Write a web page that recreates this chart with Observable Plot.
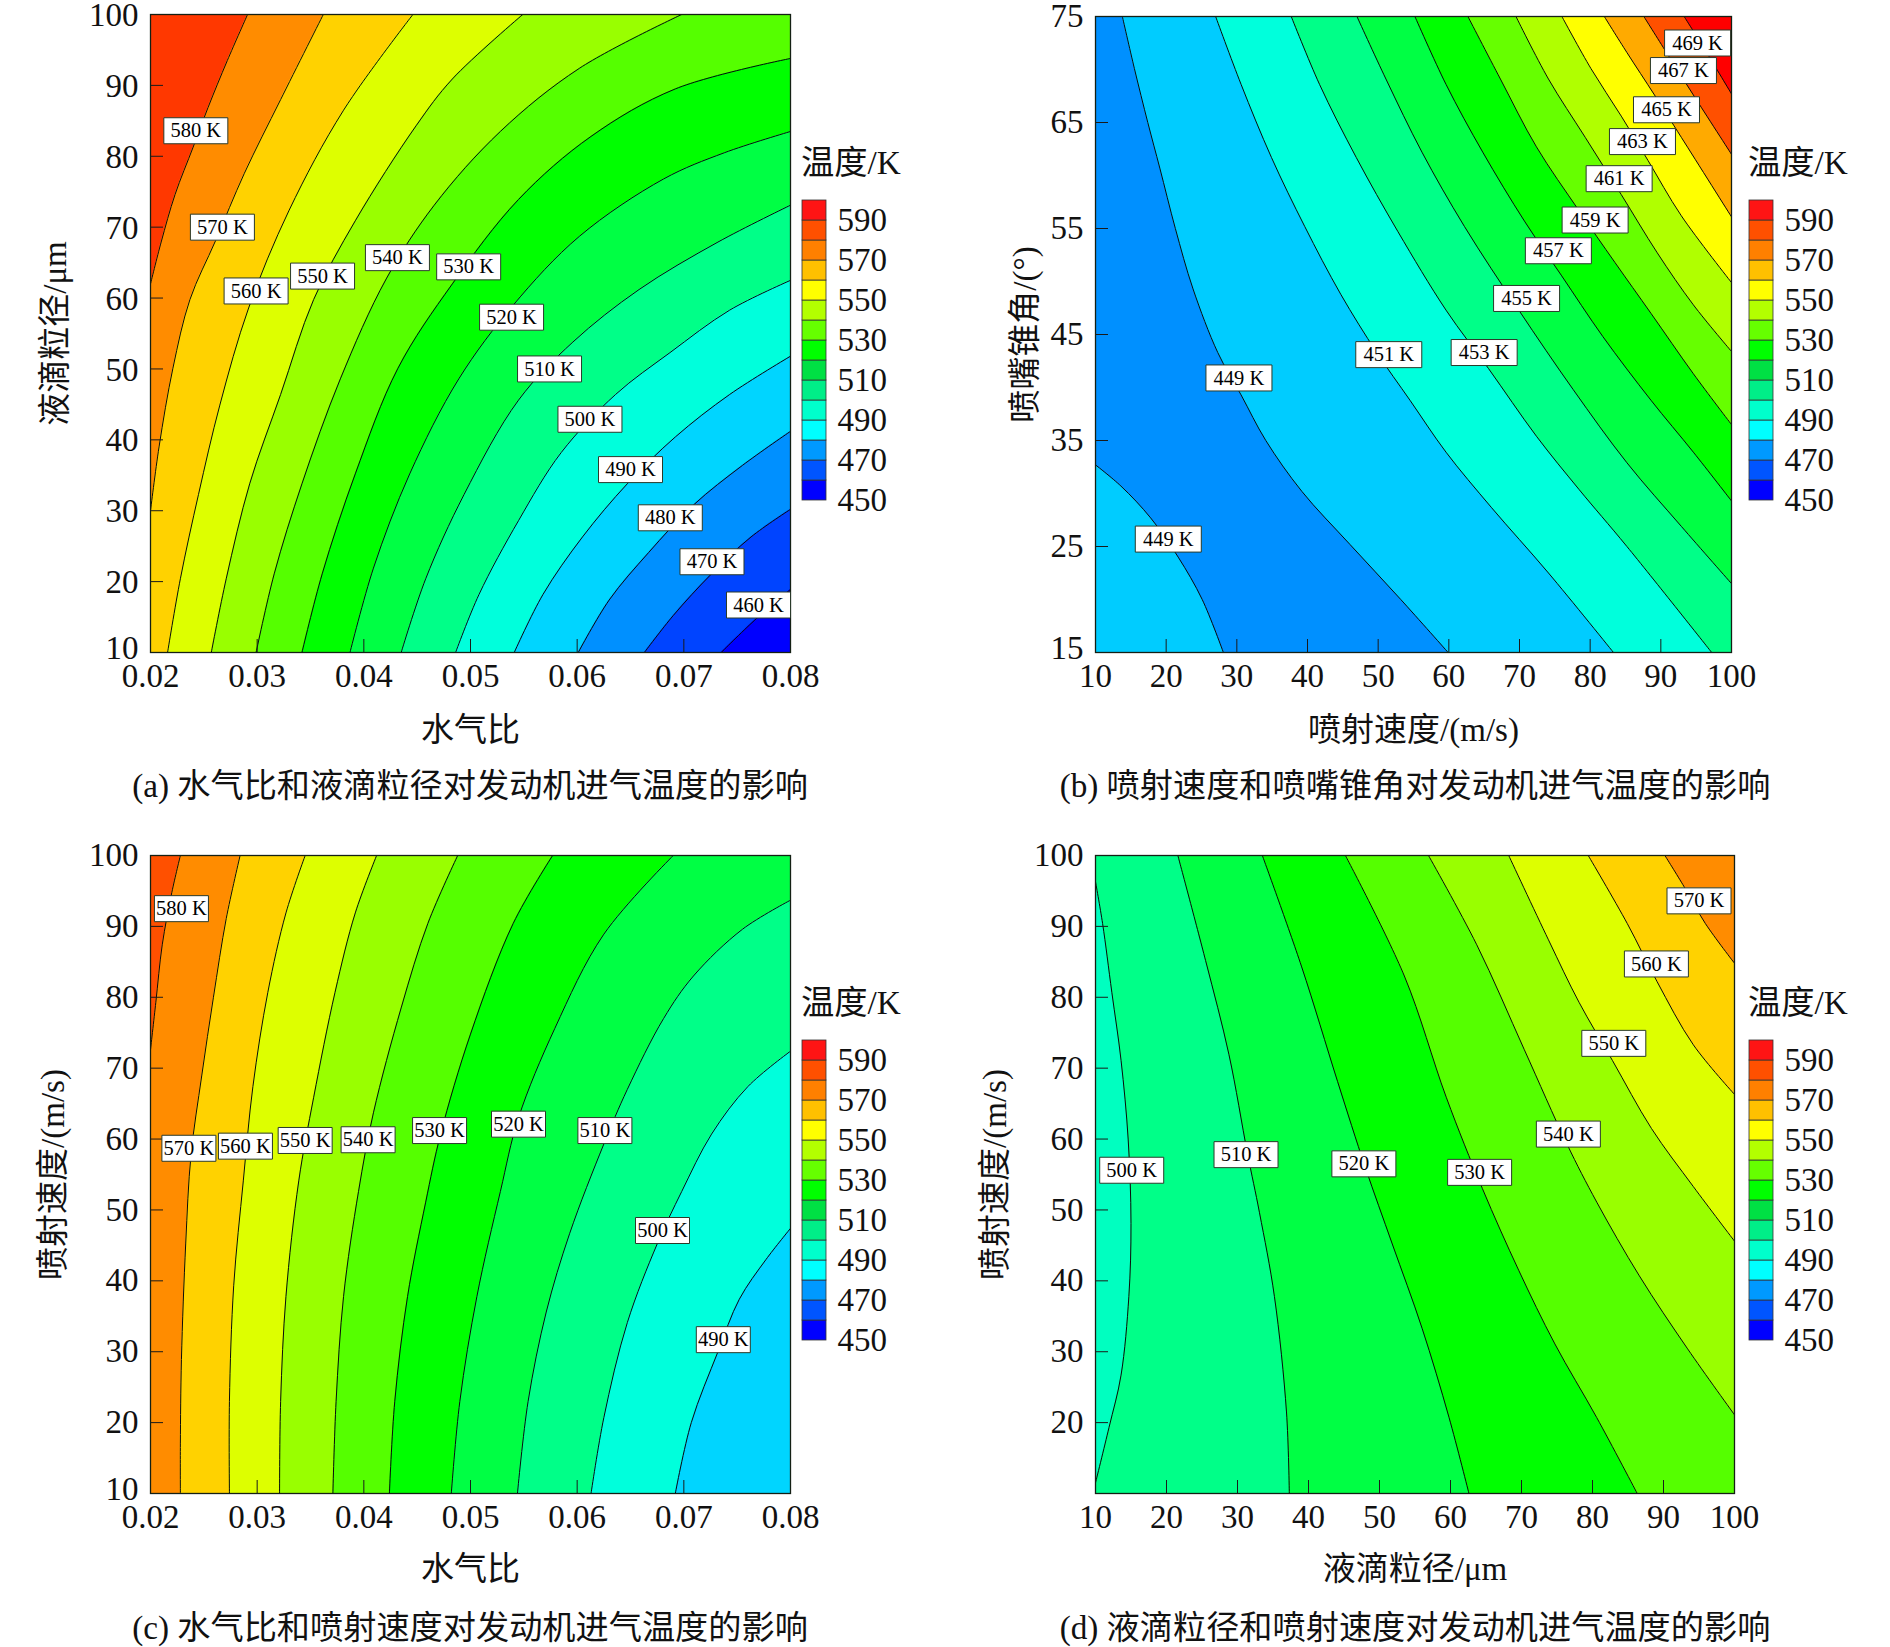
<!DOCTYPE html>
<html><head><meta charset="utf-8">
<script src="https://cdn.jsdelivr.net/npm/d3@7"></script>
<script src="https://cdn.jsdelivr.net/npm/@observablehq/plot@0.6"></script>
<style>
html,body{margin:0;padding:0;background:#fff}
body{position:relative;width:1890px;height:1647px;overflow:hidden;font-family:"Liberation Serif","Noto Sans CJK SC",serif;color:#111}
.cap{position:absolute;white-space:nowrap;font-size:33.2px;transform:translate(-50%,-50%);line-height:1}
.lt{position:absolute;white-space:nowrap;font-size:33.3px;transform:translateY(-50%);line-height:1}
</style></head><body>
<script>
// Panel (a) contours: [water-air ratio, droplet size]
const a580=[[.02,62],[.021,67.9],[.0223,74.6],[.024,81.3],[.0254,86.9],[.0272,93.5],[.0291,100]];
const a570=[[.02,30],[.0208,39],[.0221,50.1],[.0237,59.8],[.0261,68.1],[.0288,77.6],[.0322,88],[.0362,100]];
const a560=[[.0216,10],[.0228,20.4],[.0245,32.3],[.0265,44.9],[.0292,58.6],[.033,72.4],[.0381,86.5],[.0446,100]];
const a550=[[.0257,10],[.0271,20.4],[.0293,33.8],[.0322,46.4],[.0353,59.8],[.0392,70.9],[.0449,84.3],[.0483,90.9],[.0549,100]];
const a540=[[.0299,10],[.0316,21.1],[.0342,33.8],[.0378,48.6],[.0421,62.7],[.0466,73.1],[.0528,83.5],[.0602,92.4],[.0698,100]];
const a530=[[.0342,10],[.0361,21.1],[.0392,35.2],[.0432,50.1],[.0483,62],[.0545,73.9],[.0613,82.8],[.0692,89.5],[.08,93.8]];
const a520=[[.0387,10],[.0409,21.9],[.0443,35.2],[.0489,48.6],[.054,59],[.0602,68.7],[.0681,76.8],[.0738,80.5],[.08,83.5]];
const a510=[[.0435,10],[.0458,20.4],[.0494,32.3],[.0545,45.6],[.0596,53.8],[.0658,61.2],[.0732,67.9],[.08,73.1]];
const a500=[[.0486,10],[.0508,18.2],[.0545,28.6],[.0585,38.2],[.0636,46.4],[.0687,52.3],[.0743,58.3],[.08,62.5]];
const a490=[[.0541,10],[.0568,18.2],[.0605,26.3],[.0647,33.8],[.0692,40.4],[.0743,46.4],[.08,51.8]];
const a480=[[.0601,10],[.063,17.4],[.0667,24.1],[.0709,30.8],[.0755,36.4],[.08,41.2]];
const a470=[[.0663,10],[.069,15.2],[.0726,21.1],[.0763,26.3],[.08,30.2]];
const a460=[[.0735,10],[.0766,14.5],[.08,18.9]];
const labelsA=[[.02425,83.6,"580 K"],[.02674,70,"570 K"],[.0299,61,"560 K"],[.03613,63.1,"550 K"],[.04315,65.7,"540 K"],[.04983,64.4,"530 K"],[.05385,57.3,"520 K"],[.05741,50,"510 K"],[.0612,42.9,"500 K"],[.065,35.8,"490 K"],[.06873,29,"480 K"],[.07264,22.8,"470 K"],[.077,16.7,"460 K"]];
const colorsA=["#ff3800","#ff8c00","#ffd200","#ddff00","#99ff00","#55ff00","#00ff00","#00ff44","#00ff88","#00ffdc","#00d5ff","#0090ff","#0044ff","#0000ff"];

// Panel (b) contours: [injection speed, cone angle]
const bLow=[[10,32.7],[13.6,30.7],[17.8,27.7],[21.7,24],[25.1,20],[28.1,15]];
const b449=[[13.8,75],[15.5,70.1],[17.4,65],[19.1,60.7],[21.3,55],[23.8,49.3],[27.3,43.3],[30.6,39.3],[34.1,35],[39.2,30.2],[46,25.2],[53.2,20],[59.9,15]];
const b451=[[27,75],[30.6,68.6],[34.9,61.7],[39.6,55.2],[44.7,48.8],[49.8,43.3],[54.5,38.8],[59.6,33.9],[66,28.7],[74.1,22.5],[83.3,15]];
const b453=[[37.7,75],[41.7,68.6],[46.9,61.7],[52.8,54.7],[59.6,47.3],[65.6,41.8],[72.4,35.4],[78.4,30.4],[85.2,25],[97.2,15]];
const b455=[[47,75],[51.1,69.1],[56.2,62.2],[62.2,55.2],[69.9,47.3],[77.6,39.8],[85.2,32.9],[92.9,26.9],[100,21.5]];
const b457=[[55.2,75],[59.6,68.6],[64.8,62.2],[70.7,55.7],[75.9,50.6],[81.8,44.8],[88.6,38.8],[94.6,33.9],[100,29.3]];
const b459=[[62.7,75],[67.3,69.1],[72.4,62.7],[78.4,56.7],[83.5,51.8],[88.6,47],[94.6,41.3],[100,36.5]];
const b461=[[69.5,75],[74.1,69.1],[79.3,63.6],[84.4,58.2],[89.5,52.7],[94.6,47.8],[100,43.4]];
const b463=[[76,75],[80.1,70.1],[84.4,65.6],[88.2,61.4],[92.9,56.2],[100,49.9]];
const b465=[[82,75],[85.2,71.6],[89.1,67.6],[92.9,63.6],[100,56.1]];
const b467=[[87.6,75],[90.8,71.6],[94.6,67.6],[100,62]];
const b469=[[93.3,75],[96.3,71.8],[100,67.7]];
const labelsB=[[95.2,72.5,"469 K"],[93.2,69.9,"467 K"],[90.8,66.2,"465 K"],[87.4,63.2,"463 K"],[84.1,59.7,"461 K"],[80.7,55.8,"459 K"],[75.5,52.9,"457 K"],[71,48.4,"455 K"],[65,43.3,"453 K"],[51.5,43.1,"451 K"],[30.3,40.9,"449 K"],[20.3,25.7,"449 K"]];
const colorsB=["#00ccff","#0090ff","#00ccff","#00ffdc","#00ff88","#00ff44","#00ff00","#66ff00","#b0ff00","#ffff00","#ffaa00","#ff5000","#ff0000"];

// Panel (c) contours: [water-air ratio, injection speed]
const c580=[[.02,72.6],[.0205,79.3],[.0211,87.4],[.022,94.8],[.0228,100]];
const c570=[[.0228,10],[.0228,17],[.0229,28.9],[.0233,45.2],[.0238,57.8],[.0248,68.9],[.0259,80],[.0271,91.1],[.0284,100]];
const c560=[[.0274,10],[.0274,23],[.0278,39.3],[.0287,54.1],[.0296,67.4],[.031,80.7],[.0327,91.9],[.0345,100]];
const c550=[[.0321,10],[.0322,23],[.0327,37.8],[.0339,54.1],[.0353,65.9],[.0373,80.7],[.0392,91.9],[.0412,100]];
const c540=[[.0371,10],[.0374,23],[.0381,37.8],[.0395,52.6],[.0409,63.7],[.0435,78.5],[.046,90.4],[.0488,100]];
const c530=[[.0424,10],[.0429,23],[.0441,37.8],[.0458,51.1],[.0472,60.7],[.05,74.8],[.054,90.4],[.0577,100]];
const c520=[[.0482,10],[.049,23],[.0506,37.8],[.0528,52.6],[.0545,63],[.0579,75.6],[.0625,88.9],[.069,100]];
const c510=[[.0544,10],[.0554,23],[.0571,35.6],[.0593,46.7],[.0625,59.3],[.0647,67],[.0681,77],[.0709,83],[.0755,89.6],[.08,93.7]];
const c500=[[.0613,10],[.0625,20.7],[.0647,34.1],[.0675,45.2],[.0698,52.6],[.0726,60.7],[.076,67.4],[.08,72.4]];
const c490=[[.0692,10],[.0707,20],[.0732,30],[.0752,37.4],[.0777,43],[.08,47.4]];
const labelsC=[[.0229,92.5,"580 K"],[.0236,58.7,"570 K"],[.0289,59,"560 K"],[.0345,59.8,"550 K"],[.0404,59.9,"540 K"],[.0471,61.2,"530 K"],[.0545,62.1,"520 K"],[.0626,61.2,"510 K"],[.068,47.1,"500 K"],[.0737,31.7,"490 K"]];
const colorsC=["#ff5000","#ff8c00","#ffd200","#ddff00","#99ff00","#55ff00","#00ff00","#00ff44","#00ff88","#00ffdc","#00d5ff"];

// Panel (d) contours: [droplet size, injection speed]
const d500=[[10,11.5],[11.9,19.3],[13.6,26.7],[14.7,37.8],[15,48.1],[14.6,60],[13.6,71.1],[12.3,80.7],[11,90.4],[10,96.3]];
const d510=[[37.3,10],[36.9,21.5],[35.2,37.8],[33.1,49.6],[31.4,58],[28.8,71.9],[25.5,85.2],[21.6,100]];
const d520=[[62.6,10],[59.8,20.7],[56,33.3],[51.8,45.2],[48,56],[44.1,68.1],[39,84.4],[33.5,100]];
const d530=[[86.3,10],[80.6,20.7],[74.7,31.1],[69.6,41.5],[64.5,53],[59.4,65.9],[53.5,83],[45.2,100]];
const d540=[[100,21.1],[93.4,30.4],[86.6,40.7],[80.6,51.1],[76.4,59.3],[70.4,72.6],[63.7,87.4],[56.9,100]];
const d550=[[100,45.6],[94.2,53.3],[88.3,61.5],[82.8,71.1],[78.1,79.3],[73.8,88.1],[68.2,100]];
const d560=[[100,66.3],[94.2,73.3],[89.1,82.2],[84.9,90.4],[79.4,100]];
const d570=[[100,84.8],[95.9,90.4],[92.9,95.6],[90.2,100]];
const labelsD=[[15.1,55.6,"500 K"],[31.2,57.8,"510 K"],[47.8,56.5,"520 K"],[64.1,55.3,"530 K"],[76.6,60.7,"540 K"],[83,73.5,"550 K"],[89,84.7,"560 K"],[95,93.6,"570 K"]];
const colorsD=["#00ffc0","#00ff88","#00ff44","#00ff00","#55ff00","#99ff00","#ddff00","#ffd200","#ff8c00"];

// Legend
const legendLevels=[450,460,470,480,490,500,510,520,530,540,550,560,570,580,590];
const legendColors=["#0000ff","#0055ff","#0099ff","#00ffff","#00ffcc","#00ee88","#00e044","#00ff00","#66ff00","#b3ff00","#ffff00","#ffc000","#ff8000","#ff5000","#ff1414"];
const legendTicks=[450,470,490,510,530,550,570,590];

const ratioTicks=[.02,.03,.04,.05,.06,.07,.08];
const tens=[10,20,30,40,50,60,70,80,90,100];
const angleTicks=[15,25,35,45,55,65,75];

const FONT='"Liberation Serif","Noto Sans CJK SC",serif';
const panels=[
 {box:[150,14,790,652],xd:[.02,.08],yd:[10,100],xt:ratioTicks,yt:tens,fmt:d3.format(".2f"),xl:"水气比",xo:88,yl:"液滴粒径/μm",yo:108,dy:1,lines:[a580,a570,a560,a550,a540,a530,a520,a510,a500,a490,a480,a470,a460],colors:colorsA,labels:labelsA,bw:64,
  cap:"(a) 水气比和液滴粒径对发动机进气温度的影响",capX:470,capY:786,lx:801,ly:200},
 {box:[1095,16,1731,652],xd:[10,100],yd:[15,75],xt:tens,yt:angleTicks,fmt:d3.format("d"),xl:"喷射速度/(m/s)",xo:88,yl:"喷嘴锥角/(°)",yo:83,dy:0,lines:[bLow,b449,b451,b453,b455,b457,b459,b461,b463,b465,b467,b469],colors:colorsB,labels:labelsB,bw:66,
  cap:"(b) 喷射速度和喷嘴锥角对发动机进气温度的影响",capX:1415,capY:786,lx:1748,ly:200},
 {box:[150,855,790,1493],xd:[.02,.08],yd:[10,100],xt:ratioTicks,yt:tens,fmt:d3.format(".2f"),xl:"水气比",xo:86,yl:"喷射速度/(m/s)",yo:110,dy:0,lines:[c580,c570,c560,c550,c540,c530,c520,c510,c500,c490],colors:colorsC,labels:labelsC,bw:54,
  cap:"(c) 水气比和喷射速度对发动机进气温度的影响",capX:470,capY:1628,lx:801,ly:1040},
 {box:[1095,855,1734,1493],xd:[10,100],yd:[10,100],xt:tens,yt:tens.slice(1),fmt:d3.format("d"),xl:"液滴粒径/μm",xo:86,yl:"喷射速度/(m/s)",yo:113,dy:0,lines:[d500,d510,d520,d530,d540,d550,d560,d570],colors:colorsD,labels:labelsD,bw:64,
  cap:"(d) 液滴粒径和喷射速度对发动机进气温度的影响",capX:1415,capY:1628,lx:1748,ly:1040}
];

function place(node,left,top){node.style.position="absolute";node.style.left=left+"px";node.style.top=top+"px";document.body.appendChild(node);}

for(const p of panels){
  const [l,t,r,b]=p.box, ML=150, MT=20, MR=30, MB=115;
  const [xmin,xmax]=p.xd, [ymin,ymax]=p.yd;
  const tickX=(xmax-xmin)*13/(r-l), tickY=(ymax-ymin)*13/(b-t);
  const boxSym={draw(ctx){const w=p.bw/2,h=13;ctx.moveTo(-w,-h);ctx.lineTo(w,-h);ctx.lineTo(w,h);ctx.lineTo(-w,h);ctx.closePath();}};
  const marks=[Plot.rect([0],{x1:()=>xmin,x2:()=>xmax,y1:()=>ymin,y2:()=>ymax,fill:p.colors[0]})];
  const sorted=p.lines.map(s=>s.slice().sort((u,v)=>u[1]-v[1]));
  sorted.forEach((s,i)=>{
    const fill=p.colors[i+1];
    const first=s[0], last=s[s.length-1];
    if(first[0]===xmin&&first[1]>ymin) marks.push(Plot.rect([0],{x1:()=>xmin,x2:()=>xmax,y1:()=>ymin,y2:()=>first[1],fill,insetTop:-1}));
    if(last[0]===xmin&&last[1]<ymax) marks.push(Plot.rect([0],{x1:()=>xmin,x2:()=>xmax,y1:()=>last[1],y2:()=>ymax,fill,insetBottom:-1}));
    marks.push(Plot.area(s,{x1:d=>d[0],x2:()=>xmax,y1:d=>d[1],y2:d=>d[1],fill,curve:"catmull-rom",clip:true}));
  });
  sorted.forEach(s=>marks.push(Plot.line(s,{x:d=>d[0],y:d=>d[1],stroke:"#0a0a0a",strokeWidth:1,curve:"catmull-rom",clip:true})));
  const bottomTick=p.yt[0]===ymin?[ymin]:[];
  marks.push(
    Plot.ruleX(p.xt.slice(1,-1),{x:d=>d,y1:()=>ymin,y2:()=>ymin+tickY,stroke:"#1a1a1a",strokeWidth:1}),
    Plot.ruleY(p.yt.filter(v=>v>ymin&&v<ymax),{y:d=>d,x1:()=>xmin,x2:()=>xmin+tickX,stroke:"#1a1a1a",strokeWidth:1}),
    Plot.axisX({ticks:p.xt,tickFormat:p.fmt,tickSize:0,tickPadding:11,fontSize:33,label:p.xl,labelAnchor:"center",labelArrow:"none",labelOffset:p.xo}),
    Plot.axisY({ticks:p.yt.filter(v=>v>ymin),tickSize:0,tickPadding:12,fontSize:33,dy:p.dy,label:p.yl,labelAnchor:"center",labelArrow:"none",labelOffset:p.yo}),
    Plot.axisY({ticks:bottomTick,tickSize:0,tickPadding:12,fontSize:33,dy:-4,label:null}),
    Plot.frame({stroke:"#142014",strokeWidth:1.3}),
    Plot.dot(p.labels,{x:d=>d[0],y:d=>d[1],symbol:boxSym,r:5,fill:"#fff",stroke:"#2a3a2a",strokeWidth:1}),
    Plot.text(p.labels,{x:d=>d[0],y:d=>d[1],text:d=>d[2],fontSize:20.5,fill:"#000"})
  );
  const fig=Plot.plot({width:r-l+ML+MR,height:b-t+MT+MB,marginLeft:ML,marginTop:MT,marginRight:MR,marginBottom:MB,
    x:{domain:p.xd},y:{domain:p.yd},
    style:{fontFamily:FONT,background:"transparent",color:"#111",overflow:"visible"},marks});
  place(fig,l-ML,t-MT);

  const leg=Plot.plot({width:120,height:340,marginLeft:0,marginRight:96,marginTop:20,marginBottom:20,
    x:{domain:[0,1],axis:null},y:{domain:[450,600]},
    style:{fontFamily:FONT,background:"transparent",color:"#111",overflow:"visible"},
    marks:[
      Plot.rect(legendLevels,{x1:()=>0,x2:()=>1,y1:d=>d,y2:d=>d+10,fill:(d,i)=>legendColors[i],stroke:"#333",strokeWidth:0.8}),
      Plot.axisY({anchor:"right",ticks:legendTicks,tickSize:0,tickPadding:11,fontSize:33,dy:-0.3,label:null})
    ]});
  place(leg,p.lx+1,p.ly-20);

  const title=document.createElement("div");title.className="lt";title.textContent="温度/K";title.style.left=p.lx+"px";title.style.top=(p.ly-37)+"px";document.body.appendChild(title);
  const cap=document.createElement("div");cap.className="cap";cap.textContent=p.cap;cap.style.left=p.capX+"px";cap.style.top=p.capY+"px";document.body.appendChild(cap);
}
</script>
</body></html>
